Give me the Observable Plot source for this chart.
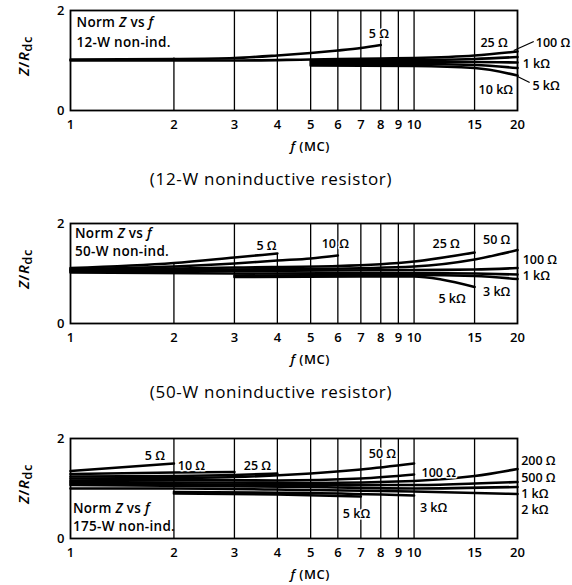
<!DOCTYPE html>
<html><head><meta charset="utf-8">
<script src="https://cdn.jsdelivr.net/npm/d3@7"></script>
<script src="https://cdn.jsdelivr.net/npm/@observablehq/plot@0.6"></script>
<style>
body{margin:0;background:#fff;width:572px;height:585px;overflow:hidden;position:relative;font-family:'Open Sans','DejaVu Sans',sans-serif;}
.panel{position:absolute;left:0;}
.cap{position:absolute;left:0;width:542px;text-align:center;font-size:17px;line-height:18px;color:#000;letter-spacing:0.7px;}
</style></head>
<body>
<div id="p1" class="panel" style="top:0px"></div>
<div class="cap" style="top:170px">(12-W noninductive resistor)</div>
<div id="p2" class="panel" style="top:200px"></div>
<div class="cap" style="top:383px">(50-W noninductive resistor)</div>
<div id="p3" class="panel" style="top:410px"></div>
<script>
const FONT = "'Open Sans','DejaVu Sans',sans-serif";
// x axis tick values (MC)
const xTicks = [1, 2, 3, 4, 5, 6, 7, 8, 9, 10, 15, 20];
const gridF = [2, 3, 4, 5, 6, 7, 8, 9, 10, 15];
const yTicks = [0, 2];

// ---- 12-W panel ----
const grid12Top = [1.05, 2, 2, 2, 2, 2, 2, 2, 2, 2];
const curves12 = [
  {r: "5 Ω",   f: [1, 2, 3, 4, 5, 6, 7, 8],        z: [1.02, 1.03, 1.05, 1.1, 1.15, 1.2, 1.25, 1.31]},
  {r: "25 Ω",  f: [1, 3, 5, 8, 10, 15, 20],        z: [1.0, 1.0, 1.02, 1.04, 1.05, 1.1, 1.18]},
  {r: "100 Ω", f: [5, 10, 15, 20],                 z: [0.99, 1.01, 1.03, 1.07]},
  {r: "1 kΩ",  f: [5, 10, 15, 20],                 z: [0.96, 0.97, 0.97, 0.96]},
  {r: "5 kΩ",  f: [5, 10, 15, 20],                 z: [0.93, 0.93, 0.91, 0.85]},
  {r: "10 kΩ", f: [5, 10, 15, 20],                 z: [0.9, 0.89, 0.85, 0.7]}
];
const labels12 = [
  {t: "5 Ω",   f: 7.9,  z: 1.54, a: "middle"},
  {t: "25 Ω",  f: 17.1, z: 1.36, a: "middle"},
  {t: "100 Ω", f: 22.6, z: 1.36, a: "start"},
  {t: "1 kΩ",  f: 20.7, z: 0.94, a: "start"},
  {t: "5 kΩ",  f: 22.1, z: 0.5,  a: "start"},
  {t: "10 kΩ", f: 17.3, z: 0.42, a: "middle"}
];
const leaders12 = [
  {f1: 22.3, z1: 1.38, f2: 19.5, z2: 1.2},
  {f1: 21.7, z1: 0.56, f2: 20.0, z2: 0.68}
];
const note12 = {f: 1.045, z: [1.74, 1.34], lines: ["12-W non-ind."]};

// ---- 50-W panel ----
const grid50Top = [1.21, 2, 1.4, 2, 2, 2, 2, 2, 2, 2];
const curves50 = [
  {r: "5 Ω",   f: [1, 2, 3, 4],               z: [1.11, 1.21, 1.32, 1.4]},
  {r: "10 Ω",  f: [1, 2, 3, 4, 5, 6],         z: [1.09, 1.14, 1.2, 1.26, 1.3, 1.36]},
  {r: "25 Ω",  f: [1, 2, 3, 6, 10, 15],       z: [1.07, 1.1, 1.12, 1.15, 1.24, 1.42]},
  {r: "50 Ω",  f: [1, 3, 5, 10, 15, 20],      z: [1.06, 1.08, 1.09, 1.14, 1.28, 1.47]},
  {r: "100 Ω", f: [1, 3, 10, 15, 20],         z: [1.04, 1.05, 1.07, 1.08, 1.11]},
  {r: "1 kΩ",  f: [1, 3, 10, 15, 20],         z: [1.02, 1.0, 1.01, 1.0, 0.98]},
  {r: "3 kΩ",  f: [3, 10, 15, 20],            z: [0.96, 0.97, 0.95, 0.89]},
  {r: "5 kΩ",  f: [3, 10, 12, 15],            z: [0.93, 0.94, 0.88, 0.73]}
];
const labels50 = [
  {t: "5 Ω",   f: 3.72, z: 1.56, a: "middle"},
  {t: "10 Ω",  f: 5.9,  z: 1.6,  a: "middle"},
  {t: "25 Ω",  f: 12.4, z: 1.6,  a: "middle"},
  {t: "50 Ω",  f: 17.4, z: 1.68, a: "middle"},
  {t: "100 Ω", f: 20.7, z: 1.27, a: "start"},
  {t: "1 kΩ",  f: 20.7, z: 0.95, a: "start"},
  {t: "3 kΩ",  f: 17.4, z: 0.63, a: "middle"},
  {t: "5 kΩ",  f: 12.9, z: 0.5,  a: "middle"}
];
const note50 = {f: 1.034, z: [1.78, 1.43], lines: ["50-W non-ind."]};

// ---- 175-W panel ----
const grid175Top = [2, 2, 2, 2, 2, 2, 2, 2, 2, 2];
const curves175 = [
  {r: "5 Ω",   f: [1, 2],                      z: [1.35, 1.5]},
  {r: "10 Ω",  f: [1, 2, 3],                   z: [1.29, 1.32, 1.33]},
  {r: "25 Ω",  f: [1, 2, 3, 4],                z: [1.24, 1.25, 1.27, 1.3]},
  {r: "50 Ω",  f: [1, 2, 3, 5, 7, 10],         z: [1.2, 1.21, 1.23, 1.3, 1.38, 1.5]},
  {r: "100 Ω", f: [1, 2, 4, 7, 10],            z: [1.16, 1.17, 1.16, 1.2, 1.28]},
  {r: "200 Ω", f: [1, 5, 10, 15, 20],          z: [1.13, 1.11, 1.15, 1.25, 1.39]},
  {r: "500 Ω", f: [1, 5, 10, 15, 20],          z: [1.1, 1.07, 1.07, 1.1, 1.13]},
  {r: "1 kΩ",  f: [1, 5, 10, 20],              z: [1.07, 1.03, 1.0, 1.03]},
  {r: "2 kΩ",  f: [1, 2, 5, 10, 20],           z: [1.0, 1.0, 0.97, 0.94, 0.89]},
  {r: "3 kΩ",  f: [2, 5, 10],                  z: [0.93, 0.91, 0.86]},
  {r: "5 kΩ",  f: [2, 4, 7],                   z: [0.9, 0.88, 0.84]}
];
const labels175 = [
  {t: "5 Ω",   f: 1.76, z: 1.66, a: "middle"},
  {t: "10 Ω",  f: 2.25, z: 1.46, a: "middle"},
  {t: "25 Ω",  f: 3.5,  z: 1.46, a: "middle"},
  {t: "50 Ω",  f: 8.09, z: 1.7,  a: "middle"},
  {t: "100 Ω", f: 11.8, z: 1.32, a: "middle"},
  {t: "3 kΩ",  f: 11.4, z: 0.62, a: "middle"},
  {t: "5 kΩ",  f: 6.8,  z: 0.5,  a: "middle"},
  {t: "200 Ω", f: 20.5, z: 1.56, a: "start"},
  {t: "500 Ω", f: 20.5, z: 1.21, a: "start"},
  {t: "1 kΩ",  f: 20.5, z: 0.9,  a: "start"},
  {t: "2 kΩ",  f: 20.5, z: 0.57, a: "start"}
];
const note175 = {f: 1.02, z: [0.58, 0.22], lines: ["175-W non-ind."]};

function rich(svg, x, y, parts, o = {}) {
  const t = d3.select(svg).append("text")
    .attr("x", x).attr("y", y)
    .attr("font-family", FONT).attr("font-size", o.size || 13)
    .attr("font-weight", o.weight || 500)
    .attr("text-anchor", o.anchor || "start").attr("fill", "black")
    .attr("dominant-baseline", "middle");
  if (o.spacing) t.attr("letter-spacing", o.spacing);
  if (o.rotate) t.attr("transform", `rotate(-90 ${x} ${y})`);
  parts.forEach(p => {
    const s = t.append("tspan").text(p.t);
    if (p.i) s.attr("font-style", "italic");
    if (p.sub) s.attr("dy", 4).attr("font-size", (o.size || 13) - 2);
  });
  return t;
}

function panel(id, curves, gridTop, labels, leaders, note, mt, mb) {
  const frameH = 100;
  const rows = curves.flatMap(c => c.f.map((f, i) => ({r: c.r, f, z: c.z[i]})));
  const grid = gridF.map((f, i) => ({f, top: gridTop[i]}));
  const chart = Plot.plot({
    width: 572, height: mt + frameH + mb,
    marginTop: mt, marginBottom: mb, marginLeft: 70, marginRight: 55,
    style: {fontFamily: FONT, color: "black", background: "white", overflow: "visible"},
    x: {type: "log", domain: [1, 20]},
    y: {domain: [0, 2]},
    marks: [
      Plot.ruleX(grid, {x: "f", y1: 0, y2: "top", stroke: "black", strokeWidth: 1.3}),
      Plot.line(rows, {x: "f", y: "z", z: "r", stroke: "black", strokeWidth: 2.6, curve: "monotone-x"}),
      Plot.frame({stroke: "black", strokeWidth: 1.8}),
      Plot.axisX({ticks: xTicks, tickFormat: d => String(d), tickSize: 0, tickPadding: 9, label: null, fontSize: 13, fontWeight: 600}),
      Plot.axisY({ticks: yTicks, tickFormat: d => String(d), tickSize: 0, tickPadding: 6, label: null, fontSize: 13, fontWeight: 600}),
      Plot.text(labels, {filter: d => d.a === "middle", x: "f", y: "z", text: "t", textAnchor: "middle", fontSize: 12.5, fontWeight: 600, fill: "black", stroke: "white", strokeWidth: 3, paintOrder: "stroke"}),
      Plot.text(labels, {filter: d => d.a === "start", x: "f", y: "z", text: "t", textAnchor: "start", fontSize: 12.5, fontWeight: 600, fill: "black"}),
      Plot.link(leaders, {x1: "f1", y1: "z1", x2: "f2", y2: "z2", stroke: "black", strokeWidth: 1.3})
    ]
  });
  const X = chart.scale("x"), Y = chart.scale("y");
  // y axis label
  rich(chart, 25, mt + frameH / 2 - 4, [{t: "Z", i: true}, {t: "/"}, {t: "R", i: true}, {t: "dc", sub: true}], {rotate: true, anchor: "middle", size: 15, weight: 600, spacing: 0.5});
  // x axis label
  rich(chart, X.apply(5), mt + frameH + 38, [{t: "f", i: true}, {t: " (MC)"}], {anchor: "middle", size: 13, weight: 600, spacing: 0.5});
  // note text
  rich(chart, X.apply(note.f), Y.apply(note.z[0]), [{t: "Norm "}, {t: "Z", i: true}, {t: " vs "}, {t: "f", i: true}], {size: 13.5, weight: 600, spacing: 0.3});
  rich(chart, X.apply(note.f), Y.apply(note.z[1]), [{t: note.lines[0]}], {size: 13.5, weight: 600, spacing: 0.3});
  document.getElementById(id).appendChild(chart);
}

panel("p1", curves12, grid12Top, labels12, leaders12, note12, 10, 55);
panel("p2", curves50, grid50Top, labels50, [], note50, 23, 50);
panel("p3", curves175, grid175Top, labels175, [], note175, 28, 47);
</script>
</body></html>
